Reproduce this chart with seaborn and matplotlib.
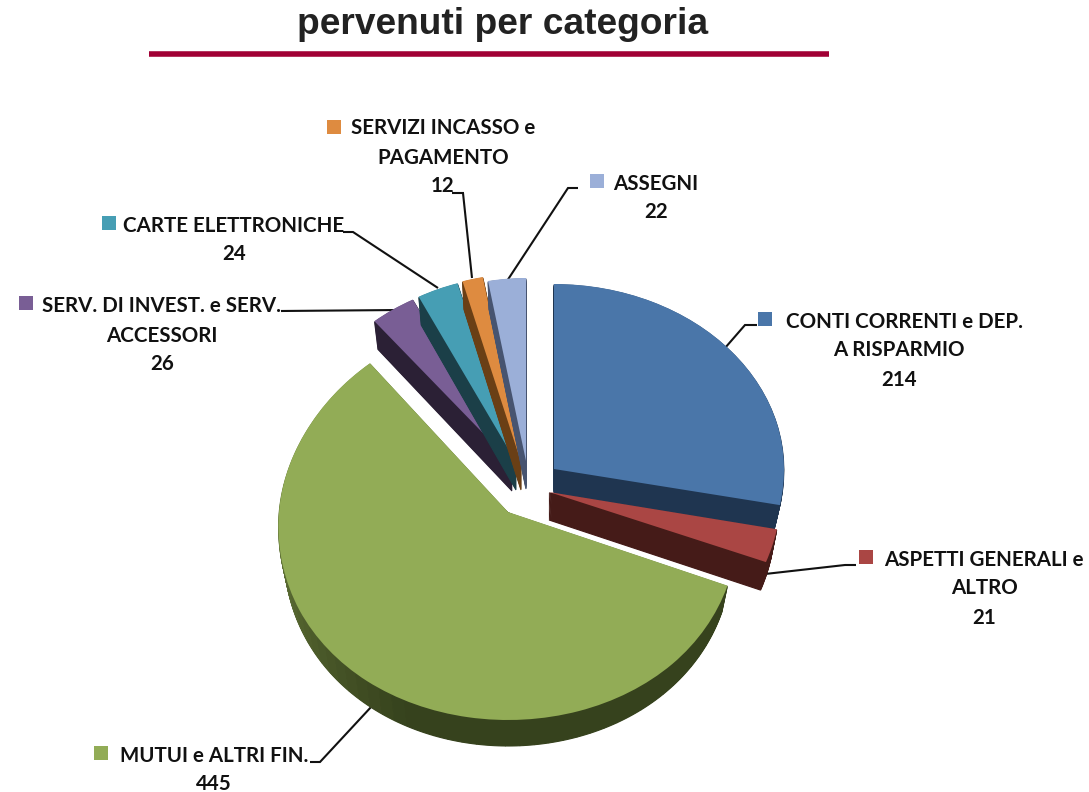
import matplotlib
matplotlib.use("Agg")
import numpy as np
import matplotlib.pyplot as plt
from matplotlib.transforms import Affine2D, Transform
import seaborn as sns

# ---- data (clockwise from 12 o'clock)
categories = ["CONTI CORRENTI", "ASPETTI GENERALI", "MUTUI", "SERV. INVEST.", "CARTE", "SERVIZI INCASSO", "ASSEGNI"]
values = [214, 21, 445, 26, 24, 12, 22]
top_colors = ["#4A76A9", "#AA4644", "#92AC56", "#795E95", "#469EB4", "#DE8B40", "#9BAFD8"]
wall_colors = ["#1F3550", "#451B18", "#36421D", "#2B2035", "#1B3F48", "#6A3F15", "#475470"]
mutui_wall_lit = "#66793A"

# ---- layout (pixels of the 1089x792 image)
W, H = 1089, 792
apex = [(554, 469), (549, 492), (508, 512), (512, 463), (516, 462), (521, 462), (526, 461)]
rad_x = [230, 232, 229, 216, 212, 212, 211]
rad_y_far = [185, 198, 193, 184, 186, 188, 183]
rad_y_near = [192, 198, 208, 184, 186, 188, 183]
persp = [0, 0, 0.07, 0, 0, 0, 0]
depth = [24, 28, 26, 28, 28, 28, 28]
shrink = 0.025  # the underside of the pie is slightly narrower than the top
draw_rank = [4, 5, 6, 0, 1, 2, 3]

labels = [
    (["CONTI CORRENTI e DEP.", "A RISPARMIO", "214"], [905, 899, 899], [321.5, 350.5, 379.5], (765, 318.5),
     [(725, 348), (745, 325), (757, 325)]),
    (["ASPETTI GENERALI e", "ALTRO", "21"], [984, 984, 984], [559.5, 588.5, 617.5], (866, 557),
     [(765, 574), (845, 565), (856, 565)]),
    (["MUTUI e ALTRI FIN.", "445"], [214.5, 214], [755.5, 783.5], (101, 752.5),
     [(372, 706), (320, 762), (310, 762)]),
    (["SERV. DI INVEST. e SERV.", "ACCESSORI", "26"], [162, 162, 162], [306.5, 335.5, 363.5], (26, 303),
     [(400, 310), (281, 311)]),
    (["CARTE ELETTRONICHE", "24"], [234, 234], [225.5, 254.5], (109, 223),
     [(438, 288), (353, 232), (343, 232)]),
    (["SERVIZI INCASSO e", "PAGAMENTO", "12"], [443, 443, 443], [128.5, 157.5, 185.5], (334, 127),
     [(472, 278), (463, 193), (452, 193)]),
    (["ASSEGNI", "22"], [656, 656], [183.5, 212.5], (597, 181),
     [(507, 281), (568, 188), (578, 188)]),
]


class Tilt(Transform):
    """Unit-circle wedge to a tilted ellipse: far half flatter and narrower than near half."""
    input_dims = output_dims = 2
    is_separable = False

    def __init__(self, rx, far, near, k):
        super().__init__()
        self.rx, self.far, self.near, self.k = rx, far, near, k

    def transform_non_affine(self, v):
        v = np.asarray(v, float)
        x, y = v[:, 0], v[:, 1]
        return np.column_stack([self.rx * x * (1 - self.k * y), np.where(y > 0, self.far, self.near) * y])


sns.set_theme(style="white")
palette_top = sns.color_palette(top_colors)
palette_wall = sns.color_palette(wall_colors)
lit = np.array(matplotlib.colors.to_rgb(mutui_wall_lit))
dark = np.array(palette_wall[2])

fig = plt.figure(figsize=(W / 100, H / 100), dpi=100, facecolor="white")
ax = fig.add_axes([0, 0, 1, 1])

# the walls use the same slices, with MUTUI cut into thin parts so its rim can fade
N_SPLIT = 60
M = values[2]
wall_values = values[:2] + [M / N_SPLIT] * N_SPLIT + values[3:]
owner = [0, 1] + [2] * N_SPLIT + [3, 4, 5, 6]
wall_cols = []
start = sum(values[:2]) / sum(values) * 360
for j, o in enumerate(owner):
    if o != 2:
        wall_cols.append(palette_wall[o])
    else:
        ang = start + (j - 2 + 0.5) / N_SPLIT * (M / sum(values) * 360)
        f = np.clip((ang - 205) / 65, 0, 1)
        wall_cols.append(tuple(dark + (lit - dark) * f))


def place(wedges, who, offset, zbase, edge):
    for w, i in zip(wedges, who):
        cx, cy = apex[i]
        tr = (Tilt(rad_x[i] * (1 - shrink * offset), rad_y_far[i], rad_y_near[i], persp[i])
              + Affine2D().translate(cx, H - cy - offset * depth[i]) + ax.transData)
        w.set_transform(tr)
        w.set_zorder(draw_rank[i] * 100 + zbase)
        w.set_clip_on(False)
        if edge:
            w.set_edgecolor(w.get_facecolor())
            w.set_linewidth(0.8)
        else:
            w.set_linewidth(0)


pie_style = dict(startangle=90, counterclock=False, radius=1)

# side walls: a stack of copies of the pie, pushed down step by step
STEPS = 30
for s in range(STEPS, 0, -1):
    wedges, _ = ax.pie(wall_values, colors=wall_cols, normalize=True, **pie_style)
    place(wedges, owner, s / STEPS, STEPS - s, True)
# top surface
wedges, _ = ax.pie(values, colors=palette_top, **pie_style)
place(wedges, range(7), 0, 50, False)

ax.set_aspect("auto")
ax.set_xlim(0, W)
ax.set_ylim(0, H)
ax.axis("off")

TXT = dict(family="Lato", fontweight="bold", fontsize=14.8, color="#111111", ha="center", va="center", zorder=2000)
for i, (lines, xs, ys, sq, lead) in enumerate(labels):
    for t, x, y in zip(lines, xs, ys):
        ax.text(x, H - y, t, **TXT)
    ax.scatter([sq[0]], [H - sq[1]], marker="s", s=105, color=[palette_top[i]], linewidths=0, zorder=2000)
    ax.plot([p[0] for p in lead], [H - p[1] for p in lead], color="#111111", lw=1.5, zorder=-1,
            solid_capstyle="butt", solid_joinstyle="miter")

ax.text(502.5, H - 24, "pervenuti per categoria", family="Liberation Sans", fontweight="bold",
        fontsize=26.7, color="#222222", ha="center", va="center")
ax.plot([149, 829], [H - 54, H - 54], color="#A10035", lw=4, solid_capstyle="butt")

fig.savefig("out.png", dpi=100, facecolor="white")
